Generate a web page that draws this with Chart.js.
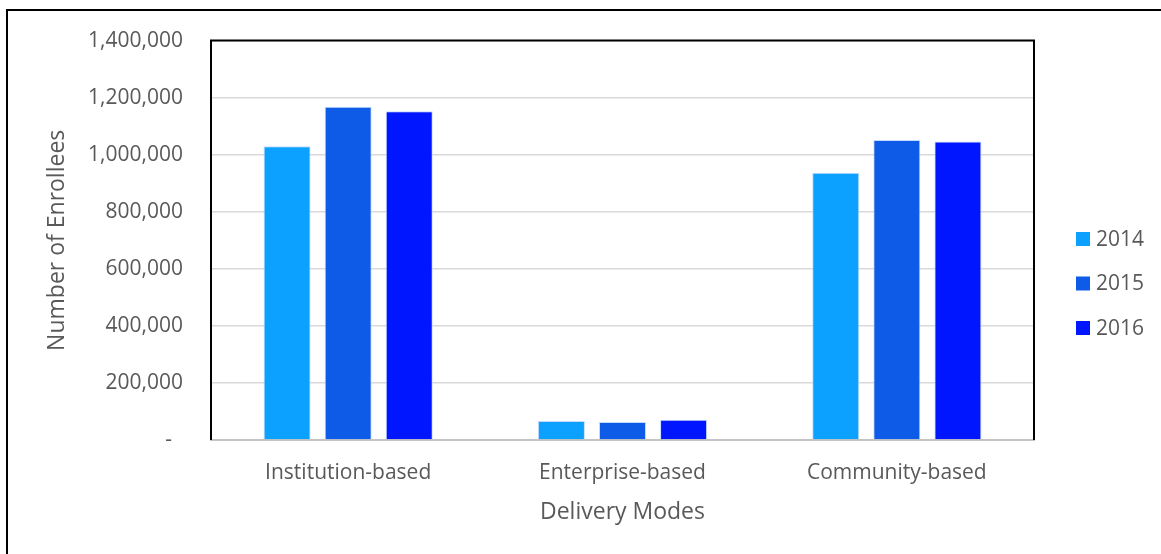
<!DOCTYPE html>
<html>
<head>
<meta charset="utf-8">
<script src="https://cdn.jsdelivr.net/npm/chart.js@4.4.0/dist/chart.umd.min.js"></script>
<style>
  html, body { margin: 0; padding: 0; background: #fff; }
  #wrap { width: 1161px; height: 554px; position: relative; }
</style>
</head>
<body>
<div id="wrap"><canvas id="enrolChart" width="1161" height="554"></canvas></div>
<script>
const modes = ['Institution-based', 'Enterprise-based', 'Community-based'];
const years = ['2014', '2015', '2016'];
const values2014 = [1030000, 67000, 937000];
const values2015 = [1168000, 63000, 1052000];
const values2016 = [1152000, 71000, 1046000];
const yTicks = [0, 200000, 400000, 600000, 800000, 1000000, 1200000, 1400000];

const barColors = ['#0ca0ff', '#0e5be8', '#0016ff'];
const seriesValues = [values2014, values2015, values2016];

const fontFamily = "'Open Sans', sans-serif";
const textColor = '#595959';

// outer frame + black plot box (top/left/right) + custom legend on the right
const framePlugin = {
    id: 'frame',
    afterDraw(chart) {
        const { ctx, chartArea } = chart;
        ctx.save();
        ctx.strokeStyle = '#000';
        ctx.lineWidth = 2;
        ctx.strokeRect(7, 10, 2000, 2000);

        ctx.beginPath();
        ctx.moveTo(chartArea.left, chartArea.bottom);
        ctx.lineTo(chartArea.left, chartArea.top);
        ctx.lineTo(chartArea.right, chartArea.top);
        ctx.lineTo(chartArea.right, chartArea.bottom);
        ctx.stroke();

        // legend
        ctx.font = '21px ' + fontFamily;
        ctx.textBaseline = 'middle';
        ctx.textAlign = 'left';
        chart.data.datasets.forEach((ds, i) => {
            const y = 239 + i * 44.5;
            const x = chartArea.right + 42;
            ctx.fillStyle = ds.backgroundColor;
            ctx.fillRect(x, y - 7, 14, 14);
            ctx.fillStyle = textColor;
            ctx.fillText(ds.label, x + 20, y + 1);
        });
        ctx.restore();
    }
};

const ctx = document.getElementById('enrolChart').getContext('2d');
new Chart(ctx, {
    type: 'bar',
    data: {
        labels: modes,
        datasets: years.map((yr, i) => ({
            label: yr,
            data: seriesValues[i],
            backgroundColor: barColors[i],
            borderColor: 'rgba(190, 215, 255, 0.9)',
            borderWidth: 1,
            categoryPercentage: 0.668,
            barPercentage: 0.77
        }))
    },
    options: {
        responsive: false,
        animation: false,
        layout: { padding: { left: 30, right: 127, top: 38, bottom: 0 } },
        plugins: {
            legend: { display: false },
            tooltip: { enabled: false }
        },
        scales: {
            y: {
                min: 0,
                max: 1400000,
                afterBuildTicks: (scale) => { scale.ticks = yTicks.map(v => ({ value: v })); },
                afterFit: (scale) => { scale.width = 181; },
                ticks: {
                    color: textColor,
                    font: { family: fontFamily, size: 21 },
                    padding: 28,
                    callback: (v) => v === 0 ? '-  ' : v.toLocaleString('en-US')
                },
                grid: {
                    color: (c) => c.tick && c.tick.value === 0 ? '#c4c4c4' : '#d9d9d9',
                    lineWidth: 1.5,
                    drawTicks: false
                },
                border: { display: true, color: '#000', width: 2 },
                title: {
                    display: true,
                    text: 'Number of Enrollees',
                    color: textColor,
                    font: { family: fontFamily, size: 23 },
                    padding: { top: 14, bottom: 0 }
                }
            },
            x: {
                afterFit: (scale) => { scale.height = 114; },
                ticks: {
                    color: textColor,
                    font: { family: fontFamily, size: 21 },
                    padding: 20
                },
                grid: { display: false, drawTicks: false },
                border: { display: true, color: '#c4c4c4', width: 2 },
                title: {
                    display: true,
                    text: 'Delivery Modes',
                    color: textColor,
                    font: { family: fontFamily, size: 23 },
                    padding: { top: 0, bottom: 28 }
                }
            }
        }
    },
    plugins: [framePlugin]
});
</script>
</body>
</html>
